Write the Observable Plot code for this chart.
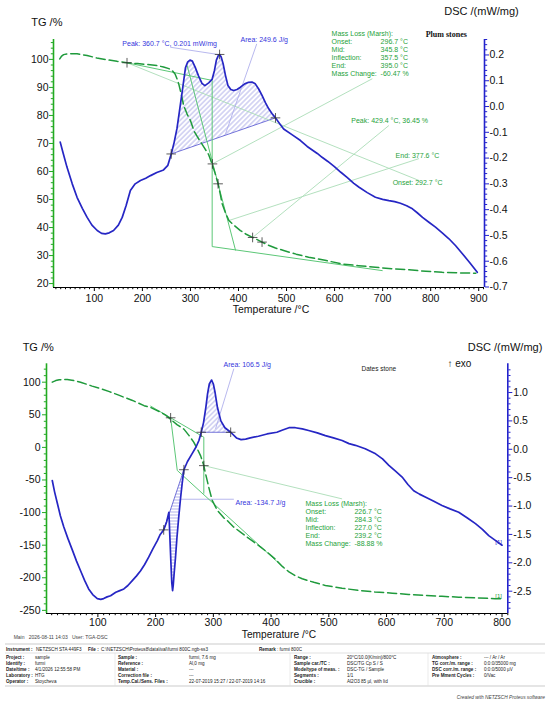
<!DOCTYPE html>
<html><head><meta charset="utf-8">
<script src="https://cdn.jsdelivr.net/npm/d3@7"></script>
<script src="https://cdn.jsdelivr.net/npm/@observablehq/plot@0.6"></script>
<style>
html,body{margin:0;padding:0;background:#fff;}
#wrap{position:relative;width:550px;height:702px;overflow:hidden;font-family:"Liberation Sans",Arial,sans-serif;}
#top{position:absolute;left:0;top:0;}
#bot{position:absolute;left:0;top:330px;}
#info{position:absolute;left:0;top:640px;}
</style></head><body>
<div id="wrap"><div id="top"></div><div id="bot"></div><svg id="info" width="550" height="62" xmlns="http://www.w3.org/2000/svg"></svg></div>
<script>
// ================= DATA: Plum stones (top chart) =================
const plumDscT = [29,35,43,54,64,75,85,95,106,115,123,131,140,150,158,166,175,185,196,207,217,230,244,253,260,266,272,277,283,289.6,294,299,304,310,317,324,330,338,345,350,354,358,360.7,364,368,373,378,384,390,397,404,413,421,428,435,442,449,456,463,470,477,485,494,512,529,543,564,574,586,599,613,626,640,651,668,685,700,713,725,737,750,762,772,783,797,810,824,838,852,866,881,897];
const plumDsc = [-0.138,-0.18,-0.235,-0.30,-0.352,-0.395,-0.43,-0.46,-0.481,-0.492,-0.494,-0.490,-0.481,-0.46,-0.43,-0.385,-0.326,-0.300,-0.287,-0.278,-0.268,-0.256,-0.246,-0.228,-0.184,-0.14,-0.085,-0.02,0.060,0.150,0.172,0.180,0.176,0.152,0.118,0.090,0.081,0.092,0.105,0.140,0.180,0.198,0.202,0.192,0.166,0.120,0.082,0.066,0.062,0.066,0.075,0.088,0.094,0.095,0.088,0.068,0.043,0.015,-0.009,-0.028,-0.044,-0.065,-0.087,-0.110,-0.132,-0.155,-0.182,-0.197,-0.213,-0.232,-0.255,-0.275,-0.298,-0.313,-0.334,-0.352,-0.360,-0.365,-0.369,-0.375,-0.385,-0.397,-0.412,-0.430,-0.450,-0.468,-0.490,-0.513,-0.540,-0.571,-0.605,-0.643];
const plumTgT = [28,32,36,45,64,85,105,126,147,168,190,210,230,244,255,262,268,272,276,281,286,293,300,307,314,321,328,338,345,351,357.6,362,366,373,380,392,404,416,429,440,449,462,477,494,520,546,580,616,650,685,720,755,790,824,860,894];
const plumTg = [100.2,101.2,101.7,102.0,102.0,101.4,100.5,99.9,99.3,98.8,98.5,98.2,97.8,97.3,96.7,96.0,94.8,93.1,91.0,87.5,83.5,80.5,78.2,74.6,72.5,70.6,68.7,66.0,62.7,59.5,55.6,52.0,48.5,45.2,42.5,40.6,38.9,37.6,36.5,35.6,34.8,33.7,32.7,31.8,30.5,29.4,28.3,27.0,26.4,25.8,25.3,24.9,24.4,24.0,23.8,23.7];
const plumTempTicks = [100,200,300,400,500,600,700,800,900];
const plumTgTicks = [20,30,40,50,60,70,80,90,100];
const plumDscTicks = [0.2,0.1,0.0,-0.1,-0.2,-0.3,-0.4,-0.5,-0.6,-0.7];
// evaluation construction lines (T, TG) pairs
const plumGuides = [[168,98.8,345.2,92.5],[293,97.9,394,31.8],[345.2,92.5,345.2,33.2],[345.2,33.2,700,24.6]];
const plumPointers = [[345.8,62.7,678.5,93.1],[429.4,36.45,713,76.4],[380,42.5,775.6,64.6],[168,98.8,775.6,56.8]];
const plumBluePointers = [[258,0.230,360.7,0.201],[438,0.243,373,-0.106]];
const plumArea = [{x1:260,d1:-0.184,x2:477,d2:-0.044,id:"hatchPlum"}];
const plumTgMarks = [[168,98.8],[345.8,62.7],[357.5,55.6],[429.4,36.45],[449,34.8]];
const plumDscMarks = [[260,-0.184],[360.7,0.202],[477,-0.044]];
const plumMassLoss = [["Onset:","296.7 °C"],["Mid:","345.8 °C"],["Inflection:","357.5 °C"],["End:","395.0 °C"],["Mass Change:","-60.47 %"]];

// ================= DATA: Dates stone (bottom chart) =================
const dateDscT = [21,25,30,35,41,48,56,63,70,77,84,91,99,105,110,116,122,131,138,145,152,160,167,174,181,188,195,203,208,214,219,223,224.5,226.5,228,229.4,230.5,232,234.5,237,240,243,246,249,255,263,270,275,279,283,287,290,293,297,300,303,307,313,320,330,340,348,356,364,378,393,410,420,431,442,454,465,480,494,508,523,535,546,563,581,593,604,616,627,637,647,657,667,681,696,710,725,740,754,766,777,789,800];
const dateDsc = [-0.55,-0.75,-0.96,-1.17,-1.37,-1.57,-1.78,-1.97,-2.14,-2.31,-2.46,-2.56,-2.63,-2.645,-2.63,-2.60,-2.58,-2.52,-2.49,-2.46,-2.40,-2.31,-2.23,-2.14,-2.03,-1.90,-1.76,-1.61,-1.50,-1.42,-1.28,-1.11,-1.5,-2.0,-2.35,-2.49,-2.40,-2.2,-1.9,-1.55,-1.2,-0.88,-0.6,-0.36,-0.22,-0.08,0.04,0.155,0.30,0.47,0.74,0.98,1.15,1.22,1.15,1.00,0.74,0.50,0.38,0.30,0.20,0.17,0.18,0.20,0.23,0.27,0.30,0.34,0.38,0.38,0.36,0.33,0.29,0.24,0.20,0.155,0.10,0.07,0.01,-0.08,-0.17,-0.285,-0.39,-0.49,-0.62,-0.73,-0.79,-0.84,-0.91,-0.99,-1.05,-1.11,-1.21,-1.31,-1.41,-1.52,-1.61,-1.69];
const dateTgT = [21,27,33,40,47,55,62,70,80,90,105,120,135,145,160,180,191,200,208.6,218,226,237,249,258,266,272,278,283.5,286.5,292,298,307,318,324,335,347,359,370,382,395,408,420,431,442,454,474,494,523,552,580,610,638,667,696,725,757,788,800];
const dateTg = [100,102.5,103.7,104.2,104,103,101.8,100,97,94,90,85.5,80.5,77,72,64,61.5,57.5,54,49,43,35,28,18,8,-2,-13,-28,-40.5,-61,-81.4,-96.8,-108,-112,-122,-130,-138,-145,-153,-162,-172,-183,-191,-197,-201.5,-207,-211.8,-216,-219.5,-221.8,-223.6,-225.5,-227,-228.5,-229.7,-231,-232,-232.3];
const dateTempTicks = [100,200,300,400,500,600,700,800];
const dateTgTicks = [100,50,0,-50,-100,-150,-200,-250];
const dateDscTicks = [1.0,0.5,0.0,-0.5,-1.0,-1.5,-2.0,-2.5];
const dateGuides = [[191,63.5,283.5,15.6],[226,45.4,237.5,-35.4],[237.5,-35.4,420,-183],[283.5,15.6,283.5,-71]];
const datePointers = [[283.5,-28,523,-79]];
const dateBluePointers = [[335.5,1.42,303.8,0.36],[243,-0.88,335.5,-0.88]];
const dateAreas = [{x1:279,d1:0.30,x2:330,d2:0.30,id:"hatchExo"},{x1:214,d1:-1.42,x2:249,d2:-0.36,id:"hatchEndo"}];
const dateTgMarks = [[226,45.4],[283.5,-28]];
const dateDscMarks = [[214,-1.42],[249,-0.36],[279,0.30],[330,0.30]];
const dateMassLoss = [["Onset:","226.7 °C"],["Mid:","284.3 °C"],["Inflection:","227.0 °C"],["End:","239.2 °C"],["Mass Change:","-88.88 %"]];

// ================= INFO TABLE =================
const infoHeader = [["Instrument :",true],["NETZSCH STA 449F3",false],["File :",true],["C:\\NETZSCH\\Proteus8\\data\\ival\\furmi 800C.ngb-ss3",false],["Remark",true],[": furmi 800C",false]];
const infoRows = [
 ["Project :","sample","Sample :","furmi, 7.6 mg","Range :","20°C/10.0(K/min)/800°C","Atmosphere :","--- / Ar / Ar"],
 ["Identify :","furmi","Reference :","Al,0 mg","Sample car./TC :","DSC/TG Cp S / S","TG corr./m. range :","0:0:0/35000 mg"],
 ["Date/time :","4/1/2026 12:55:58 PM","Material :","---","Mode/type of meas. :","DSC-TG / Sample","DSC corr./m. range :","0:0:0/5000 µV"],
 ["Laboratory :","HTG","Correction file :","---","Segments :","1/1","Pre Mment Cycles :","0/Vac"],
 ["Operator :","Stoycheva","Temp.Cal./Sens. Files :","22-07-2019 15:27 / 22-07-2019 14:16","Crucible :","Al2O3 85 µl, with lid"]
];

// ================= STYLE =================
const C = {blue:"#2626c4", tg:"#1f9a3c", guide:"#5cc777", pointer:"#aadcb7",  gtext:"#1ea23a",
  btext:"#3535dc", bpointer:"#b0b0ec", gaxis:"#22aa22", baxis:"#2323cc", hatch:"#8080dc", mark:"#333"};
const FONT = "'Liberation Sans', Arial, sans-serif";
const NS = "http://www.w3.org/2000/svg";
const range = (a, b, s) => d3.range(a, b + s / 2, s).map(v => Math.round(v * 1000) / 1000);

function chart(cfg) {
  const [tg0, tg1] = cfg.tgDom, [ds0, ds1] = cfg.dscDom;
  const k = (tg1 - tg0) / (ds1 - ds0);
  const toTg = d => tg0 + (d - ds0) * k;
  const toDsc = v => ds0 + (v - tg0) / k;
  const dscData = cfg.dscT.map((T, i) => ({T, v: toTg(cfg.dsc[i])}));
  const tgData = cfg.tgT.map((T, i) => ({T, v: cfg.tg[i]}));
  const marks = [];
  for (const a of cfg.areas) {
    marks.push(Plot.line(dscData.filter(d => d.T >= a.x1 && d.T <= a.x2), {x: "T", y: "v", fill: `url(#${a.id})`, stroke: "none"}));
  }
  marks.push(Plot.link(cfg.areas, {x1: "x1", y1: a => toTg(a.d1), x2: "x2", y2: a => toTg(a.d2), stroke: C.blue, strokeWidth: 0.8, strokeOpacity: 0.8}));
  marks.push(Plot.link(cfg.pointers, {x1: p => p[0], y1: p => p[1], x2: p => p[2], y2: p => p[3], stroke: C.pointer, strokeWidth: 0.9}));
  marks.push(Plot.link(cfg.bluePointers, {x1: p => p[0], y1: p => toTg(p[1]), x2: p => p[2], y2: p => toTg(p[3]), stroke: C.bpointer, strokeWidth: 0.9}));
  marks.push(Plot.link(cfg.guides, {x1: p => p[0], y1: p => p[1], x2: p => p[2], y2: p => p[3], stroke: C.guide, strokeWidth: 1}));
  marks.push(Plot.line(tgData, {x: "T", y: "v", stroke: C.tg, strokeWidth: 1.5, strokeDasharray: "9,4"}));
  marks.push(Plot.line(dscData, {x: "T", y: "v", stroke: C.blue, strokeWidth: 1.7}));
  marks.push(Plot.dot(cfg.tgMarks, {x: p => p[0], y: p => p[1], symbol: "plus", r: 3.2, stroke: C.mark, strokeWidth: 0.8}));
  marks.push(Plot.dot(cfg.dscMarks, {x: p => p[0], y: p => toTg(p[1]), symbol: "plus", r: 3.2, stroke: C.mark, strokeWidth: 0.8}));
  // axes
  const [x0, x1] = cfg.xDom;
  marks.push(Plot.ruleY([tg0], {stroke: "#000", strokeWidth: 1}));
  marks.push(Plot.ruleX([x0], {stroke: C.gaxis, strokeWidth: 1.6}));
  marks.push(Plot.ruleX([x1], {stroke: C.baxis, strokeWidth: 1.6}));
  marks.push(Plot.axisX({ticks: cfg.xTicks, anchor: "bottom", tickSize: 4, tickPadding: cfg.xPad, tickFormat: d => String(d), fontSize: 10.5, label: null, stroke: "#000", fill: "#111"}));
  marks.push(Plot.axisX({ticks: cfg.xMinor, anchor: "bottom", tickSize: 2.2, tickFormat: () => "", label: null, stroke: "#000"}));
  marks.push(Plot.axisY({ticks: cfg.tgTicks, anchor: "left", tickSize: 4, tickPadding: cfg.lPad, tickFormat: d => String(d), fontSize: 10.5, label: null, stroke: C.gaxis, fill: "#111"}));
  marks.push(Plot.axisY({ticks: cfg.tgMinor, anchor: "left", tickSize: 2.2, tickFormat: () => "", label: null, stroke: C.gaxis}));
  marks.push(Plot.axisY({ticks: cfg.dscTicks.map(toTg), anchor: "right", tickSize: 4, tickPadding: cfg.rPad, tickFormat: v => (Math.round(toDsc(v) * 10) / 10).toFixed(1), fontSize: 10.5, label: null, stroke: C.baxis, fill: "#111"}));
  marks.push(Plot.axisY({ticks: cfg.dscMinor.map(toTg), anchor: "right", tickSize: 2.2, tickFormat: () => "", label: null, stroke: C.baxis}));
  // texts
  for (const t of cfg.texts) {
    marks.push(Plot.text([t], {x: "T", y: "v", text: "s", fill: t.color || "#111", fontSize: t.size || 7,
      textAnchor: t.anchor || "start", fontWeight: t.weight || "normal", fontFamily: t.family || FONT}));
  }
  const svg = Plot.plot({
    width: 550, height: cfg.height,
    marginTop: cfg.m[0], marginRight: cfg.m[1], marginBottom: cfg.m[2], marginLeft: cfg.m[3],
    x: {domain: cfg.xDom}, y: {domain: cfg.tgDom},
    style: {background: "transparent", fontFamily: FONT, fontSize: "10.5px", overflow: "visible"},
    marks
  });
  // hatch patterns
  const defs = document.createElementNS(NS, "defs");
  for (const p of cfg.patterns) {
    const pat = document.createElementNS(NS, "pattern");
    pat.setAttribute("id", p.id); pat.setAttribute("patternUnits", "userSpaceOnUse");
    pat.setAttribute("width", p.size); pat.setAttribute("height", p.size);
    pat.setAttribute("patternTransform", `rotate(${p.angle})`);
    const ln = document.createElementNS(NS, "line");
    ln.setAttribute("x1", 0); ln.setAttribute("x2", p.size);
    ln.setAttribute("y1", p.size / 2); ln.setAttribute("y2", p.size / 2);
    ln.setAttribute("stroke", C.hatch); ln.setAttribute("stroke-width", 0.6);
    pat.appendChild(ln); defs.appendChild(pat);
  }
  svg.insertBefore(defs, svg.firstChild);
  return svg;
}

function massLossTexts(list, xl, xv, ys) {
  const out = [{s: "Mass Loss (Marsh):", T: xl, v: ys[0], color: C.gtext}];
  list.forEach((r, i) => {
    out.push({s: r[0], T: xl, v: ys[i + 1], color: C.gtext});
    out.push({s: r[1], T: xv, v: ys[i + 1], color: C.gtext});
  });
  return out;
}

// ---------- top chart ----------
const topSvg = chart({
  height: 320, m: [39, 66, 33, 53],
  xDom: [15, 912], tgDom: [18.6, 107.1], dscDom: [-0.702, 0.26],
  xTicks: plumTempTicks, xMinor: range(20, 910, 10).filter(v => v % 100),
  tgTicks: plumTgTicks, tgMinor: range(20, 106, 2).filter(v => v % 10),
  dscTicks: plumDscTicks, dscMinor: range(-0.7, 0.26, 0.02).filter(v => Math.abs(Math.round(v * 100)) % 10),
  xPad: 3, lPad: 1, rPad: 1,
  dscT: plumDscT, dsc: plumDsc, tgT: plumTgT, tg: plumTg,
  areas: plumArea, guides: plumGuides, pointers: plumPointers, bluePointers: plumBluePointers,
  tgMarks: plumTgMarks, dscMarks: plumDscMarks,
  patterns: [{id: "hatchPlum", size: 3.5, angle: -45}],
  texts: [
    {s: "TG /%", T: -31.25, v: 113.0, size: 11},
    {s: "DSC /(mW/mg)", T: 983.3, v: 117.0, size: 11, anchor: "end"},
    {s: "Temperature /°C", T: 467.7, v: 10.7, size: 10.5, anchor: "middle"},
    {s: "Peak: 360.7 °C, 0.201 mW/mg", T: 158.3, v: 105.7, color: C.btext},
    {s: "Area: 249.6 J/g", T: 404.2, v: 107.0, color: C.btext},
    ...massLossTexts(plumMassLoss, 593.75, 695.8, [109.2, 106.25, 103.4, 100.6, 97.7, 94.9]),
    {s: "Plum stones", T: 789.6, v: 108.9, size: 8, weight: "bold", family: "'Liberation Serif', 'Times New Roman', serif"},
    {s: "Peak: 429.4 °C, 36.45 %", T: 634.8, v: 78.2, color: C.gtext},
    {s: "End: 377.6 °C", T: 727, v: 65.7, color: C.gtext},
    {s: "Onset: 292.7 °C", T: 720.8, v: 56.1, color: C.gtext}
  ]
});
document.getElementById("top").appendChild(topSvg);

// ---------- bottom chart ----------
const botSvg = chart({
  height: 310, m: [33.3, 42.7, 27, 46],
  xDom: [11, 810], tgDom: [-254.8, 128.2], dscDom: [-2.893, 1.506],
  xTicks: dateTempTicks, xMinor: range(20, 810, 10).filter(v => v % 100),
  tgTicks: dateTgTicks, tgMinor: range(-250, 120, 10).filter(v => v % 50),
  dscTicks: dateDscTicks, dscMinor: range(-2.8, 1.5, 0.1).filter(v => Math.abs(Math.round(v * 10)) % 5),
  xPad: 1.5, lPad: 2, rPad: 1.5,
  dscT: dateDscT, dsc: dateDsc, tgT: dateTgT, tg: dateTg,
  areas: dateAreas, guides: dateGuides, pointers: datePointers, bluePointers: dateBluePointers,
  tgMarks: dateTgMarks, dscMarks: dateDscMarks,
  patterns: [{id: "hatchExo", size: 3.5, angle: -45}, {id: "hatchEndo", size: 3, angle: 0}],
  texts: [
    {s: "TG /%", T: -30.3, v: 153.2, size: 11},
    {s: "DSC /(mW/mg)", T: 869.8, v: 153.2, size: 11, anchor: "end"},
    {s: "↑ exo", T: 705.4, v: 127.9, size: 10},
    {s: "Dates stone", T: 556.5, v: 121.0, size: 6.5, color: "#222"},
    {s: "Area: 106.5 J/g", T: 317.6, v: 127.1, color: C.btext},
    {s: "Area: -134.7 J/g", T: 338.4, v: -85.6, color: C.btext},
    ...massLossTexts(dateMassLoss, 459.6, 544.4, [-86.5, -99.4, -111.0, -123.9, -136.2, -147.9]),
    {s: "[1]", T: 788.4, v: -145.9, size: 6, color: C.blue},
    {s: "[1]", T: 788.4, v: -228.7, size: 6, color: C.tg},
    {s: "Temperature /°C", T: 413.7, v: -287.5, size: 10.2, anchor: "middle"},
    {s: "Main   2026-08-11 14:03   User: TGA-DSC", T: -45.9, v: -290.8, size: 5, color: "#444"}
  ]
});
document.getElementById("bot").appendChild(botSvg);

// ---------- info table ----------
const info = document.getElementById("info");
function addText(s, x, y, bold, opts = {}) {
  const t = document.createElementNS(NS, "text");
  t.setAttribute("x", x); t.setAttribute("y", y);
  t.setAttribute("font-size", opts.size || 4.6);
  t.setAttribute("font-family", FONT);
  t.setAttribute("fill", opts.fill || "#222");
  if (bold) t.setAttribute("font-weight", "bold");
  if (opts.italic) t.setAttribute("font-style", "italic");
  if (opts.anchor) t.setAttribute("text-anchor", opts.anchor);
  t.textContent = s; info.appendChild(t);
}
function addLine(x1, y1, x2, y2, c) {
  const l = document.createElementNS(NS, "line");
  l.setAttribute("x1", x1); l.setAttribute("y1", y1); l.setAttribute("x2", x2); l.setAttribute("y2", y2);
  l.setAttribute("stroke", c); l.setAttribute("stroke-width", 0.6); info.appendChild(l);
}
addLine(5, 4, 545, 4, "#aaa"); addLine(5, 13, 545, 13, "#ccc"); addLine(5, 46, 545, 46, "#aaa");
[115, 290, 428].forEach(x => addLine(x, 13, x, 46, "#ddd"));
const headX = [6, 36, 88, 101, 259, 277];
infoHeader.forEach((c, i) => addText(c[0], headX[i], 10.6, c[1]));
const colX = [6, 35, 118, 189, 294, 347, 432, 484];
infoRows.forEach((row, r) => row.forEach((s, c) => addText(s, colX[c], 19.1 + r * 6, c % 2 === 0)));
addText("Created with NETZSCH Proteus software", 545, 58.7, false, {italic: true, anchor: "end", fill: "#444", size: 4.8});
</script>
</body></html>
